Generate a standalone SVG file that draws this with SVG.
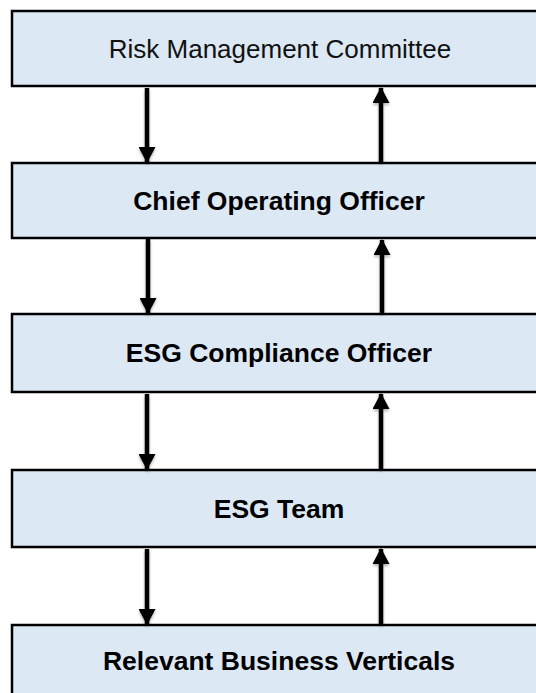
<svg xmlns="http://www.w3.org/2000/svg" width="536" height="693" viewBox="0 0 536 693">
  <defs>
    <style>
      .box { fill: #dce8f4; stroke: #000; stroke-width: 2.5; }
      .lbl { font-family: "Liberation Sans", Arial, sans-serif; fill: #000; text-anchor: middle; }
      .reg { font-size: 26px; fill: #111; }
      .bold { font-size: 26.5px; font-weight: bold; }
      .arr { stroke: #000; stroke-width: 4.5; fill: none; marker-end: url(#ah); }
    </style>
    <marker id="ah" markerUnits="userSpaceOnUse" markerWidth="17" markerHeight="17" refX="15" refY="8.5" orient="auto">
      <path d="M0,0 L16,8.5 L0,17 Z" fill="#000"/>
    </marker>
    <filter id="sh" x="-50%" y="-10%" width="200%" height="130%">
      <feDropShadow dx="0" dy="2" stdDeviation="1.5" flood-color="#000" flood-opacity="0.3"/>
    </filter>
  </defs>
  <rect width="536" height="693" fill="#fff"/>
  <g id="node-rmc">
    <rect class="box" x="12" y="11" width="536" height="75"/>
    <text class="lbl reg" x="280" y="58">Risk Management Committee</text>
  </g>
  <g id="node-coo">
    <rect class="box" x="12" y="163" width="536" height="75"/>
    <text class="lbl bold" x="279" y="210">Chief Operating Officer</text>
  </g>
  <g id="node-eco">
    <rect class="box" x="12" y="314" width="536" height="78"/>
    <text class="lbl bold" x="279" y="362">ESG Compliance Officer</text>
  </g>
  <g id="node-team">
    <rect class="box" x="12" y="470" width="536" height="77"/>
    <text class="lbl bold" x="279" y="518">ESG Team</text>
  </g>
  <g id="node-rbv">
    <rect class="box" x="12" y="625" width="536" height="80"/>
    <text class="lbl bold" x="279" y="670">Relevant Business Verticals</text>
  </g>
  <g id="connectors" filter="url(#sh)">
    <line class="arr" x1="147" y1="88" x2="147" y2="162"/>
    <line class="arr" x1="381" y1="162" x2="381" y2="88"/>
    <line class="arr" x1="148" y1="239" x2="148" y2="313"/>
    <line class="arr" x1="382" y1="313" x2="382" y2="240"/>
    <line class="arr" x1="147" y1="394" x2="147" y2="469"/>
    <line class="arr" x1="381" y1="469" x2="381" y2="394"/>
    <line class="arr" x1="147" y1="549" x2="147" y2="624"/>
    <line class="arr" x1="381" y1="624" x2="381" y2="549"/>
  </g>
</svg>
